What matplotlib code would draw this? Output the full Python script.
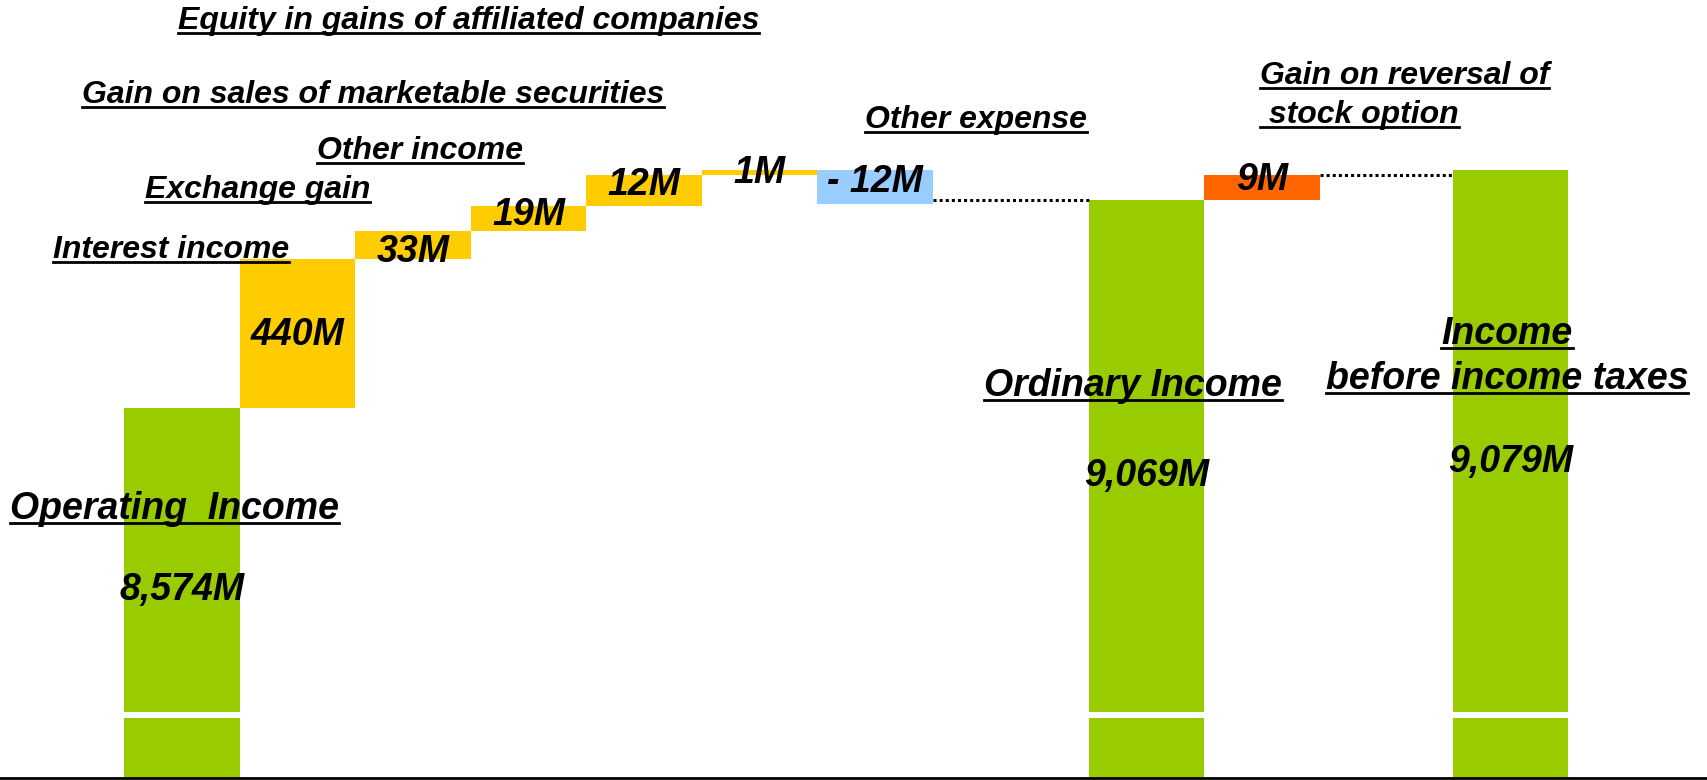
import numpy as np
import matplotlib
matplotlib.use("Agg")
import matplotlib.pyplot as plt
from matplotlib import transforms
from matplotlib.lines import Line2D

# waterfall from operating income to income before income taxes (million yen)
steps = ["Operating  Income", "Interest income", "Exchange gain", "Other income",
         "Gain on sales of marketable securities", "Equity in gains of affiliated companies",
         "Other expense", "Ordinary Income", "Gain on reversal of stock option",
         "Income before income taxes"]
values = [8574, 440, 33, 19, 12, 1, -12, 9069, 9, 9079]
is_total = [True, False, False, False, False, False, False, True, False, True]
value_labels = ["8,574M", "440M", "33M", "19M", "12M", "1M", "- 12M", "9,069M", "9M", "9,079M"]

GREEN, GOLD, BLUE, ORANGE = "#99CC00", "#FFCC00", "#99CCFF", "#FF6600"
colors = [GREEN, GOLD, GOLD, GOLD, GOLD, GOLD, BLUE, GREEN, ORANGE, GREEN]

plt.rcParams['font.family'] = ['Liberation Sans', 'DejaVu Sans']

W, H = 1708, 780
fig = plt.figure(figsize=(W / 100, H / 100), dpi=100)

# compressed scale near the top so the small steps stay visible
C = 9081
P = 0.4
def fwd(v):
    d = C - np.asarray(v, dtype=float)
    return -np.sign(d) * np.abs(d) ** P

def inv(u):
    u = np.asarray(u, dtype=float)
    return C + np.sign(u) * np.abs(u) ** (1 / P)

ax = fig.add_axes([0, 68 / H, 1, 712 / H])      # upper part (broken axis)
ax_lo = fig.add_axes([0, 2 / H, 1, 60 / H])      # stub at the bottom

# x slots: gaps before the ordinary and final totals
xpos = np.array([0, 1, 2, 3, 4, 5, 6, 8.35, 9.35, 11.5])

bottoms, heights = [], []
running = 0
for v, tot in zip(values, is_total):
    if tot:
        bottoms.append(0)
        heights.append(v)
        running = v
    else:
        bottoms.append(running)
        heights.append(v)
        running += v

ax.set_yscale('function', functions=(fwd, inv))
for a in (ax, ax_lo):
    a.bar(xpos, heights, bottom=bottoms, width=1.0, color=colors, linewidth=0)
    a.set_xlim(-1.576, 13.21)
    a.set_xticks([])
    a.set_yticks([])
    a.minorticks_off()
    a.tick_params(which='both', left=False, bottom=False, labelleft=False, labelbottom=False)
    for s in a.spines.values():
        s.set_visible(False)

ax.set_ylim(5685, 9183)
ax_lo.set_ylim(0, 500)
ax_lo.spines['bottom'].set_visible(True)
ax_lo.spines['bottom'].set_linewidth(2)
ax_lo.spines['bottom'].set_color('black')

# dotted connectors
ax.hlines(values[7], xpos[6] + 0.5, xpos[7] - 0.5, colors='black', linestyles=(0, (1, 1)), lw=2.2)
ax.hlines(values[7] + values[8], xpos[8] + 0.5, xpos[9] - 0.5, colors='black', linestyles=(0, (1, 1)), lw=2.2)

# value labels: x follows the bar, baseline in figure pixels
val_base = [600, 345, 262, 225, 195, 183, 192, 486, 190, 472]
blend = transforms.blended_transform_factory(ax.transData, fig.transFigure)
for x, lab, yb in zip(xpos, value_labels, val_base):
    ax.text(x, 1 - yb / H, lab, transform=blend, ha='center', va='baseline',
            fontsize=27, fontweight='bold', fontstyle='italic', color='black', zorder=5)

# underlined category labels: (text, x, underline y, size, align)
labels = [
    ("Equity in gains of affiliated companies", 178, 33, 23, 'left'),
    ("Gain on sales of marketable securities", 82, 107, 23, 'left'),
    ("Other income", 317, 163, 23, 'left'),
    ("Exchange gain", 145, 202, 23, 'left'),
    ("Interest income", 53, 262, 23, 'left'),
    ("Other expense", 865, 132, 23, 'left'),
    ("Gain on reversal of", 1260, 88, 23, 'left'),
    (" stock option", 1260, 127, 23, 'left'),
    ("Ordinary Income", 984, 400, 27, 'left'),
    ("Income", 1507, 348, 27, 'center'),
    ("before income taxes", 1507, 393, 27, 'center'),
    ("Operating  Income", 10, 523, 27, 'left'),
]
texts = []
for txt, x, uy, size, ha in labels:
    t = fig.text(x / W, 1 - (uy - 4) / H, txt, ha=ha, va='baseline', fontsize=size,
                 fontweight='bold', fontstyle='italic', color='black', zorder=5)
    texts.append((t, uy))

fig.canvas.draw()
renderer = fig.canvas.get_renderer()
for t, uy in texts:
    bb = t.get_window_extent(renderer)
    y = 1 - uy / H
    fig.add_artist(Line2D([bb.x0 / W, bb.x1 / W], [y, y], transform=fig.transFigure,
                          color='black', lw=2, zorder=5))

fig.savefig("out.png", dpi=100)
